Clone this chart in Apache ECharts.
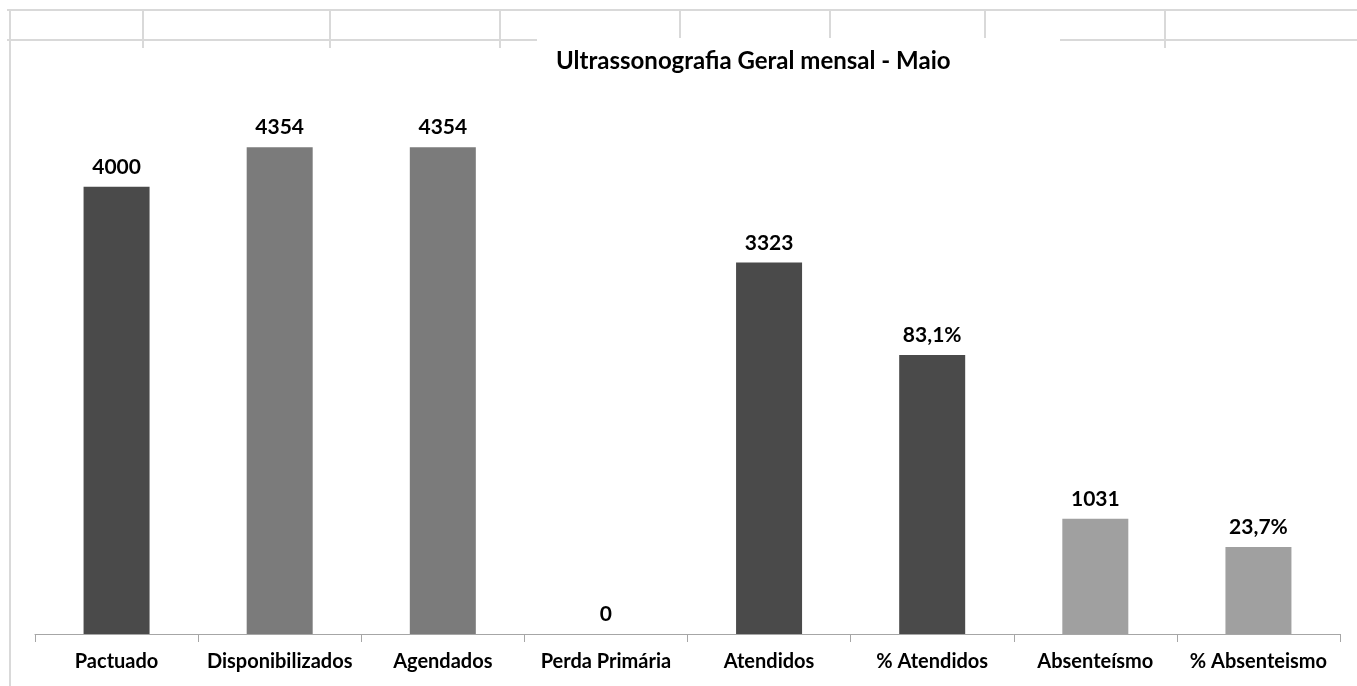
<!DOCTYPE html>
<html>
<head>
<meta charset="utf-8">
<script src="https://cdn.jsdelivr.net/npm/echarts@6/dist/echarts.min.js"></script>
<style>
  html, body { margin: 0; padding: 0; background: #fff; }
  #main { width: 1357px; height: 686px; }
</style>
</head>
<body>
<div id="main"></div>
<script>
(function(){
	var categorias = ['Pactuado', 'Disponibilizados', 'Agendados', 'Perda Primária', 'Atendidos', '% Atendidos', 'Absenteísmo', '% Absenteismo'];
	var alturas = [4000, 4354, 4354, 0, 3323, 2495, 1031, 778];
	var rotulos = ['4000', '4354', '4354', '0', '3323', '83,1%', '1031', '23,7%'];
	var cores = ['#4a4a4a', '#7b7b7b', '#7b7b7b', '#4a4a4a', '#4a4a4a', '#4a4a4a', '#a0a0a0', '#a0a0a0'];

	var data = [];
	for(var i=0;i<alturas.length;i++){
		data.push({
			value: alturas[i],
			itemStyle: { color: cores[i] }
		});
	}

	// linhas de grade da planilha (fundo)
	var gradeCor = '#d9d9d9';
	var linhas = [
		[7, 10, 1357, 10],
		[10, 10, 10, 686],
		[7, 40, 537, 40],
		[1060, 40, 1357, 40],
		[143, 10, 143, 48],
		[330, 10, 330, 48],
		[500, 10, 500, 48],
		[680, 10, 680, 38],
		[830, 10, 830, 38],
		[985, 10, 985, 38],
		[1165, 10, 1165, 48]
	];
	var graficos = [];
	for(var j=0;j<linhas.length;j++){
		graficos.push({
			type: 'line',
			silent: true,
			z: -10,
			shape: { x1: linhas[j][0], y1: linhas[j][1], x2: linhas[j][2], y2: linhas[j][3] },
			style: { stroke: gradeCor, lineWidth: 2 }
		});
	}

	echarts.init(document.getElementById('main')).setOption({
		animation: false,
		title: {
			text: 'Ultrassonografia Geral mensal - Maio',
			left: 556,
			top: 49,
			padding: 0,
			textStyle: { fontFamily: 'Lato', fontWeight: 'bold', fontSize: 24, color: '#000' }
		},
		graphic: graficos,
		grid: { left: 35, right: 17, top: 75, bottom: 52 },
		xAxis: {
			type: 'category',
			data: categorias,
			axisLine: { lineStyle: { color: '#a6a6a6', width: 1 } },
			axisTick: { show: true, length: 8, lineStyle: { color: '#a6a6a6' } },
			axisLabel: {
				margin: 18,
				color: '#000',
				fontFamily: 'Lato',
				fontWeight: 'bold',
				fontSize: 20,
				interval: 0
			}
		},
		yAxis: {
			type: 'value',
			min: 0,
			max: 5000,
			show: false,
			splitLine: { show: false }
		},
		series: [{
			type: 'bar',
			barWidth: 66,
			data: data,
			label: {
				show: true,
				position: 'top',
				distance: 9,
				color: '#000',
				fontFamily: 'Lato',
				fontWeight: 'bold',
				fontSize: 21,
				formatter: function (p) {
					return rotulos[p.dataIndex];
				}
			}
		}]
	});
})();
</script>
</body>
</html>
